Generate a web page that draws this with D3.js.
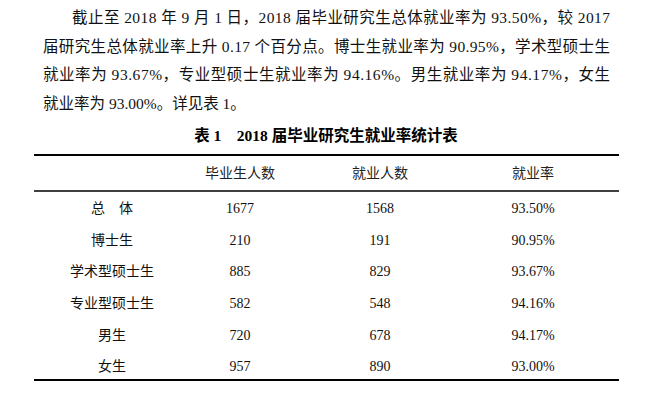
<!DOCTYPE html>
<html><head><meta charset="utf-8">
<script src="https://cdn.jsdelivr.net/npm/d3@7"></script>
<style>body{margin:0;background:#fff}</style></head>
<body><svg id="c" width="655" height="415"></svg>
<script>
const paraLines = [
  "截止至 2018 年 9 月 1 日，2018 届毕业研究生总体就业率为 93.50%，较 2017",
  "届研究生总体就业率上升 0.17 个百分点。博士生就业率为 90.95%，学术型硕士生",
  "就业率为 93.67%，专业型硕士生就业率为 94.16%。男生就业率为 94.17%，女生",
  "就业率为 93.00%。详见表 1。"
];
const title = "表 1    2018 届毕业研究生就业率统计表";
const headers = ["", "毕业生人数", "就业人数", "就业率"];
const categories = ["总　体", "博士生", "学术型硕士生", "专业型硕士生", "男生", "女生"];
const graduates = [1677, 210, 885, 582, 720, 957];
const employed = [1568, 191, 829, 548, 678, 890];
const rates = ["93.50%", "90.95%", "93.67%", "94.16%", "94.17%", "93.00%"];

const svg = d3.select("#c");
const font = "'Liberation Serif','Noto Sans CJK SC',serif";
const pl = [{x:72,w:538},{x:43,w:567},{x:43,w:567},{x:43,w:null}];
svg.selectAll("text.p").data(paraLines).join("text")
  .attr("x",(d,i)=>pl[i].x).attr("y",(d,i)=>23+i*28.7)
  .attr("font-family",font).attr("font-size",15.5).attr("fill","#111")
  .each(function(d,i){ if(pl[i].w){ d3.select(this).attr("textLength",pl[i].w).attr("lengthAdjust","spacing"); } })
  .text(d=>d);
svg.append("text").attr("x",326).attr("y",141).attr("text-anchor","middle")
  .attr("font-family",font).attr("font-size",15.5).attr("font-weight","bold").attr("fill","#000")
  .attr("xml:space","preserve").text(title);

const colX = d3.scaleOrdinal().domain([0,1,2,3]).range([112,240,380,533]);
const y = d3.scaleBand().domain(d3.range(categories.length)).range([192,382]);
[[155,2],[191,1.3],[380,2]].forEach(([yy,w])=>svg.append("line").attr("x1",34).attr("x2",619)
  .attr("y1",yy).attr("y2",yy).attr("stroke","#000").attr("stroke-width",w));
svg.selectAll("text.h").data(headers).join("text").attr("x",(d,i)=>colX(i)).attr("y",178)
  .attr("text-anchor","middle").attr("font-family",font).attr("font-size",14).attr("fill","#222").text(d=>d);
const rows = categories.map((c,i)=>[c,graduates[i],employed[i],rates[i]]);
rows.forEach((r,i)=>{
  svg.selectAll(null).data(r).join("text").attr("x",(d,j)=>colX(j)).attr("y",y(i)+y.bandwidth()/2+5)
    .attr("text-anchor","middle").attr("font-family",font).attr("font-size",14).attr("fill","#111").text(d=>d);
});
</script></body></html>
